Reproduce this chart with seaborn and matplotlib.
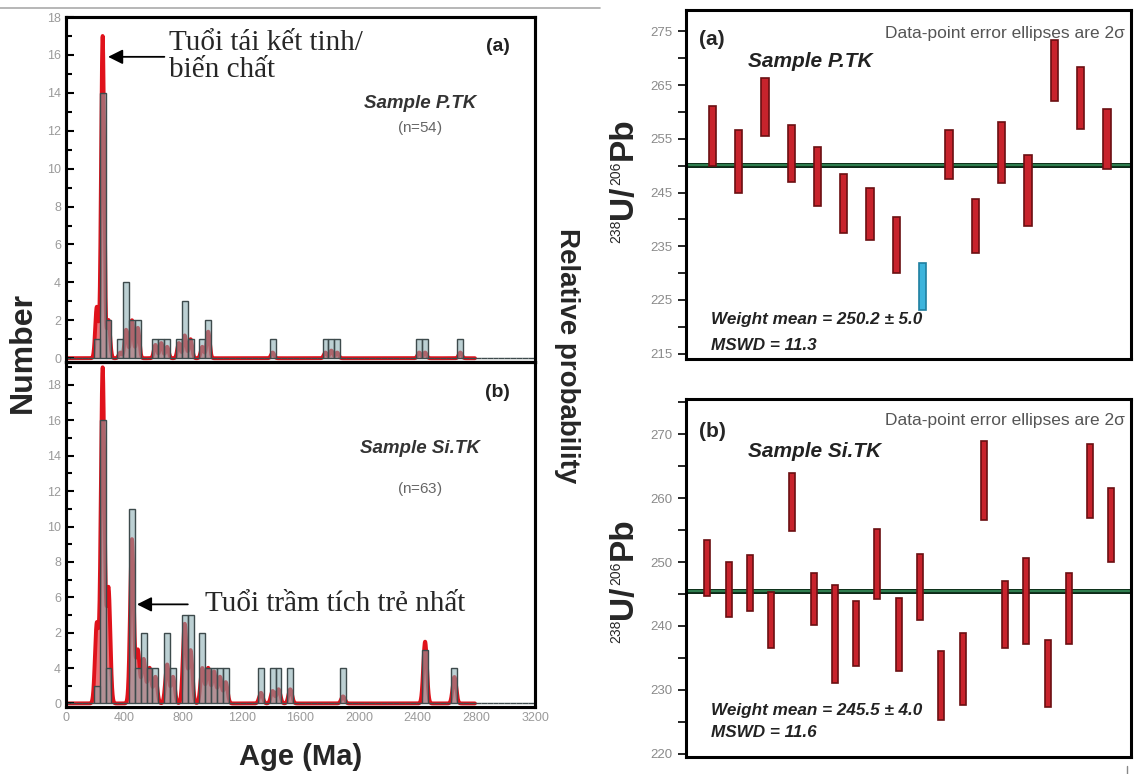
import numpy as np
import pandas as pd
import matplotlib
matplotlib.use("Agg")
import matplotlib.pyplot as plt
import seaborn as sns
from matplotlib.lines import Line2D
from matplotlib.ticker import MultipleLocator, FixedLocator
from matplotlib.transforms import IdentityTransform

# ---- left: detrital zircon age histograms (bin centre in Ma, count) ----
# prob_* = height of the relative probability curve at that age (count units)
ages_ptk = [210, 250, 290, 370, 410, 450, 490, 610, 650, 690, 770, 810, 850,
            930, 970, 1410, 1770, 1810, 1850, 2410, 2450, 2690]
counts_ptk = [1, 14, 2, 1, 4, 2, 2, 1, 1, 1, 1, 3, 1, 1, 2, 1, 1, 1, 1, 1, 1, 1]
prob_ptk = [2.7, 17, 2, 0.3, 1.5, 2, 1.6, 0.7, 0.8, 0.6, 0.8, 1.2, 1.0, 0.6,
            1.4, 0.3, 0.3, 0.4, 0.3, 0.3, 0.3, 0.3]

ages_sitk = [210, 250, 290, 450, 490, 530, 570, 610, 690, 730, 810, 850, 930,
             970, 1010, 1050, 1090, 1330, 1410, 1450, 1530, 1890, 2450, 2650]
counts_sitk = [1, 16, 2, 11, 2, 4, 2, 2, 4, 2, 5, 5, 4, 2, 2, 2, 2, 2, 2, 2, 2,
               2, 3, 2]
prob_sitk = [4.5, 19, 6.5, 9.3, 3, 2.5, 2, 1.5, 2.2, 1.5, 4.5, 3, 2, 2, 1.8,
             1.5, 1.2, 0.6, 0.7, 0.8, 0.8, 0.4, 3.5, 1.5]

age_ticks = [0, 400, 800, 1200, 1600, 2000, 2400, 2800, 3200]
number_ticks = [0, 2, 4, 6, 8, 10, 12, 14, 16, 18]
number_labels_a = ["0", "2", "4", "6", "8", "10", "12", "14", "16", "18"]
number_labels_b = ["0", "4", "2", "6", "8", "10", "12", "14", "16", "18"]

# ---- right: 238U/206Pb ages per grain (box top / bottom, Ma) ----
ptk_top = [261.2, 256.6, 266.4, 257.5, 253.4, 248.4, 245.8, 240.5, 231.9,
           256.6, 243.8, 258.1, 251.9, 273.4, 268.4, 260.5]
ptk_bottom = [249.9, 244.9, 255.6, 247.0, 242.4, 237.4, 236.1, 230.1, 223.1,
              247.5, 233.8, 246.7, 238.8, 262.0, 256.9, 249.4]
ptk_rejected = [False] * 8 + [True] + [False] * 7

sitk_top = [253.5, 250.0, 251.1, 245.3, 264.0, 248.3, 246.4, 243.9, 255.1,
            244.3, 251.2, 236.1, 238.9, 268.9, 247.1, 250.6, 237.8, 248.3,
            268.4, 261.5]
sitk_bottom = [244.7, 241.4, 242.4, 236.5, 254.8, 240.2, 231.0, 233.8, 244.2,
               233.0, 240.9, 225.3, 227.7, 256.6, 236.6, 237.2, 227.3, 237.1,
               256.9, 250.0]

mean_ptk = 250.2
mean_sitk = 245.5

sns.set_theme(style="white")
plt.rcParams["font.family"] = ["Liberation Sans", "DejaVu Sans"]
plt.rcParams["mathtext.fontset"] = "custom"
plt.rcParams["mathtext.rm"] = "Liberation Sans"
plt.rcParams["mathtext.it"] = "Liberation Sans:italic"
plt.rcParams["mathtext.bf"] = "Liberation Sans:bold"
plt.rcParams["mathtext.default"] = "regular"

SERIF = ["Liberation Serif", "DejaVu Serif"]
BAR_BLUE = "#86aab0"
KDE_RED = "#e0121b"
BOX_RED = "#c8232c"

fig = plt.figure(figsize=(11.42, 7.74), dpi=100)


def age_panel(rect, ages, counts, prob, ylim_top, labels, show_x):
    ax = fig.add_axes(rect)
    df = pd.DataFrame({"age": ages, "count": counts, "prob": prob})
    ax2 = ax.twinx()
    # bars in front of the probability curve
    ax.set_zorder(ax2.get_zorder() + 1)
    ax.patch.set_visible(False)
    sns.kdeplot(data=df, x="age", weights="prob", bw_method=0.02,
                gridsize=4000, cut=200, clip=(0, 2790), ax=ax2,
                color=KDE_RED, linewidth=2.8)
    line = ax2.lines[0]
    xs, ys = line.get_xdata(), line.get_ydata()
    ax2.fill_between(xs, 0, ys, color=KDE_RED, alpha=0.6, linewidth=0)
    scale = ys.max() / max(prob)
    ax2.set_ylim(-0.2 * scale, ylim_top * scale)
    ax2.set_yticks([])
    ax2.set_ylabel("")
    sns.histplot(data=df, x="age", weights="count", binwidth=40,
                 binrange=(-10, 3190), ax=ax, color=BAR_BLUE,
                 edgecolor="#3d4a4c", linewidth=1.0, alpha=0.55)
    ax.set_xlim(0, 3200)
    ax.set_ylim(-0.2, ylim_top)
    ax.set_ylabel("")
    ax.set_xlabel("")
    ax.yaxis.set_major_locator(FixedLocator(number_ticks))
    ax.set_yticklabels(labels)
    ax.yaxis.set_minor_locator(MultipleLocator(1))
    ax.xaxis.set_major_locator(FixedLocator(age_ticks))
    ax.xaxis.set_minor_locator(MultipleLocator(100))
    ax.tick_params(axis="both", which="both", direction="in", colors="black",
                   labelcolor="#9a9a9a", labelsize=9)
    ax.tick_params(axis="both", which="major", length=6, width=1.5)
    ax.tick_params(axis="both", which="minor", length=4, width=1.5)
    ax.tick_params(axis="x", labelbottom=show_x)
    for a in (ax, ax2):
        for s in a.spines.values():
            s.set_linewidth(2.2)
            s.set_color("black")
    return ax


ax_a = age_panel([0.0578, 0.5323, 0.4107, 0.4457], ages_ptk, counts_ptk,
                 prob_ptk, 18, number_labels_a, False)
ax_b = age_panel([0.0578, 0.0866, 0.4107, 0.4457], ages_sitk, counts_sitk,
                 prob_sitk, 19.3, number_labels_b, True)

ax_a.text(0.92, 0.915, "(a)", transform=ax_a.transAxes, ha="center",
          va="center", fontsize=14, fontweight="bold", color="#222")
ax_a.text(0.755, 0.75, "Sample P.TK", transform=ax_a.transAxes, ha="center",
          va="center", fontsize=13.5, fontweight="bold", style="italic",
          color="#333")
ax_a.text(0.755, 0.678, "($n$=54)", transform=ax_a.transAxes, ha="center",
          va="center", fontsize=11, color="#666")
ax_b.text(0.92, 0.913, "(b)", transform=ax_b.transAxes, ha="center",
          va="center", fontsize=14, fontweight="bold", color="#222")
ax_b.text(0.755, 0.75, "Sample Si.TK", transform=ax_b.transAxes, ha="center",
          va="center", fontsize=13.5, fontweight="bold", style="italic",
          color="#333")
ax_b.text(0.755, 0.632, "($n$=63)", transform=ax_b.transAxes, ha="center",
          va="center", fontsize=11, color="#666")

ax_a.annotate("", xy=(268, 15.9), xytext=(690, 15.9),
              arrowprops=dict(arrowstyle="-|>", color="black", lw=1.3,
                              mutation_scale=22))
ax_a.text(700, 17.3, "Tuổi tái kết tinh/\nbiến chất", ha="left", va="top",
          fontsize=21, family=SERIF, linespacing=1.05)
ax_b.annotate("", xy=(465, 5.6), xytext=(850, 5.6),
              arrowprops=dict(arrowstyle="-|>", color="black", lw=1.3,
                              mutation_scale=22))
ax_b.text(945, 5.6, "Tuổi trầm tích trẻ nhất", ha="left", va="center",
          fontsize=21, family=SERIF)

fig.text(0.02, 0.545, "Number", rotation=90, ha="center", va="center",
         fontsize=23, fontweight="bold")
fig.text(0.263, 0.022, "Age (Ma)", ha="center", va="center", fontsize=21,
         fontweight="bold")
fig.text(0.4965, 0.541, "Relative probability", rotation=270, ha="center",
         va="center", fontsize=20, fontweight="bold")


def mean_panel(rect, top, bottom, rejected, mean, ylim, major, label, sample,
               wm_text, mswd_text, wm_y, mswd_y, lab_y, samp_y, note_y):
    ax = fig.add_axes(rect)
    n = len(top)
    xs = np.arange(1, n + 1)
    heights = np.array(top) - np.array(bottom)
    colors = ["#3cb4dc" if r else BOX_RED for r in rejected]
    edges = ["#1f7fa0" if r else "#6b0f12" for r in rejected]
    ax.axhline(mean, color="#0d2a18", lw=3.6, zorder=1)
    ax.axhline(mean, color="#2f7d4e", lw=1.6, zorder=1)
    ax.bar(xs, heights, bottom=bottom, width=0.28, color=colors,
           edgecolor=edges, linewidth=1.2, zorder=2)
    ax.set_xlim(0, n + 0.92)
    ax.set_ylim(*ylim)
    ax.set_xticks([])
    ax.yaxis.set_major_locator(FixedLocator(major))
    ax.yaxis.set_minor_locator(MultipleLocator(5))
    ax.tick_params(axis="y", which="both", direction="out", left=True,
                   colors="black", labelcolor="#8a8a8a", labelsize=9.5)
    ax.tick_params(axis="y", which="major", length=6, width=1.2)
    ax.tick_params(axis="y", which="minor", length=6, width=1.2)
    for s in ax.spines.values():
        s.set_linewidth(2.2)
        s.set_color("black")
    ax.text(0.03, lab_y, label, transform=ax.transAxes, ha="left",
            va="center", fontsize=15, fontweight="bold")
    ax.text(0.14, samp_y, sample, transform=ax.transAxes, ha="left",
            va="center", fontsize=15, fontweight="bold", style="italic",
            color="#222")
    ax.text(0.987, note_y, "Data-point error ellipses are 2σ",
            transform=ax.transAxes, ha="right", va="center", fontsize=12.5,
            color="#555")
    ax.text(0.056, wm_y, wm_text, transform=ax.transAxes, ha="left",
            va="center", fontsize=12.3, fontweight="bold", style="italic",
            color="#222", zorder=3)
    ax.text(0.056, mswd_y, mswd_text, transform=ax.transAxes, ha="left",
            va="center", fontsize=12.3, fontweight="bold", style="italic",
            color="#222", zorder=3)
    return ax


rax_a = mean_panel([0.6007, 0.5362, 0.3897, 0.4509], ptk_top, ptk_bottom,
                   ptk_rejected, mean_ptk, (214, 279),
                   [215, 225, 235, 245, 255, 265, 275], "(a)", "Sample P.TK",
                   "Weight mean = 250.2 ± 5.0", "MSWD = 11.3",
                   0.112, 0.04, 0.914, 0.851, 0.934)
rax_b = mean_panel([0.6007, 0.022, 0.3897, 0.4625], sitk_top, sitk_bottom,
                   [False] * len(sitk_top), mean_sitk, (219.5, 275.5),
                   [220, 230, 240, 250, 260, 270], "(b)", "Sample Si.TK",
                   "Weight mean = 245.5 ± 4.0", "MSWD = 11.6",
                   0.131, 0.067, 0.908, 0.852, 0.94)


def isotope_label(x_base, y_center):
    # vertical "238U/206Pb" with small raised mass numbers, in pixels
    pieces = [("238", 10, "normal", 12), ("U/", 24, "bold", 0),
              ("206", 10, "normal", 12), ("Pb", 24, "bold", 0)]
    renderer = fig.canvas.get_renderer()
    texts = []
    for s, size, weight, raise_px in pieces:
        t = fig.text(0, 0, s, fontsize=size, fontweight=weight, rotation=90,
                     rotation_mode="anchor", ha="left", va="baseline",
                     transform=IdentityTransform())
        texts.append((t, t.get_window_extent(renderer).height, raise_px))
    y = y_center - sum(h for _, h, _ in texts) / 2
    for t, h, raise_px in texts:
        t.set_position((x_base - raise_px, y))
        y += h + 1


isotope_label(632, 774 - 182)
isotope_label(632, 774 - 582)

fig.add_artist(Line2D([0.0, 0.525], [0.99, 0.99], transform=fig.transFigure,
                      color="#aaaaaa", lw=1.2))
fig.add_artist(Line2D([0.987, 0.987], [0.0, 0.01], transform=fig.transFigure,
                      color="#888888", lw=1.0))

fig.savefig("out.png", dpi=100)
